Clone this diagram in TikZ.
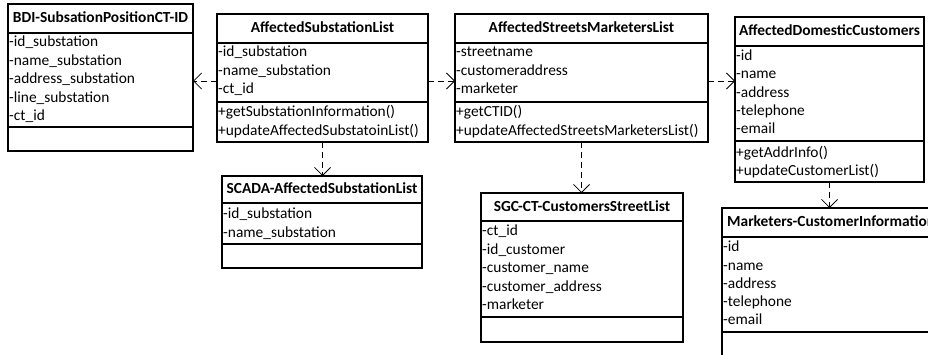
\documentclass[tikz,border=0pt]{standalone}
\usepackage{fontspec}
\setmainfont{Carlito}
\usetikzlibrary{arrows.meta}
\tikzset{
  umlbox/.style={draw, line width=1.1pt, inner sep=0pt, outer sep=0pt, anchor=north west},
  divline/.style={line width=1.1pt},
  rowtxt/.style={inner sep=0pt, text height=11pt, text depth=3.5pt, anchor=west, font=\fontsize{15.4}{18}\selectfont},
  titletxt/.style={inner sep=0pt, text height=11pt, text depth=3.5pt, font=\fontsize{15.4}{18}\selectfont\bfseries},
  dep/.style={line width=0.8pt, dash pattern=on 6pt off 4pt, -{Straight Barb[length=8pt,width=16pt]}},
}
\newcommand\umlrows[5]{\foreach \rr [count=\i] in {#5} {\node[rowtxt] (#1\i) at ({#2},{#3+#4*(\i-1)}) {\rr};}}
\begin{document}
\begin{tikzpicture}[x=1pt,y=-1pt]
\useasboundingbox (0,0) rectangle (928,355);
\fill[white] (0,0) rectangle (928,355);
\clip (0,0) rectangle (928,355);

% B1
\node[umlbox, minimum width=185pt, minimum height=147pt] (b1) at (8,4) {};
\draw[divline] (b1.west |- 0,33) -- (b1.east |- 0,33);
\draw[divline] (b1.west |- 0,127) -- (b1.east |- 0,127);
\node[titletxt] (t1) at (100.5,18.5) {BDI-SubsationPositionCT-ID};
\umlrows{b1a}{9}{43}{18.5}{-id\_substation,-name\_substation,-address\_substation,-line\_substation,-ct\_id}

% B2
\node[umlbox, minimum width=211pt, minimum height=128pt] (b2) at (217,14) {};
\draw[divline] (b2.west |- 0,43) -- (b2.east |- 0,43);
\draw[divline] (b2.west |- 0,102) -- (b2.east |- 0,102);
\node[titletxt] (t2) at (322.5,29) {AffectedSubstationList};
\umlrows{b2a}{218}{53}{18.5}{-id\_substation,-name\_substation,-ct\_id}
\umlrows{b2m}{218}{113}{18.5}{+getSubstationInformation(),+updateAffectedSubstatoinList()}

% B3
\node[umlbox, minimum width=253pt, minimum height=128pt] (b3) at (455,14) {};
\draw[divline] (b3.west |- 0,43) -- (b3.east |- 0,43);
\draw[divline] (b3.west |- 0,102) -- (b3.east |- 0,102);
\node[titletxt] (t3) at (581.5,29) {AffectedStreetsMarketersList};
\umlrows{b3a}{456}{53}{18.5}{-streetname,-customeraddress,-marketer}
\umlrows{b3m}{456}{113}{18.5}{+getCTID(),+updateAffectedStreetsMarketersList()}

% B4
\node[umlbox, minimum width=189pt, minimum height=165pt] (b4) at (735,17) {};
\draw[divline] (b4.west |- 0,46) -- (b4.east |- 0,46);
\draw[divline] (b4.west |- 0,141) -- (b4.east |- 0,141);
\node[titletxt] (t4) at (829.5,32) {AffectedDomesticCustomers};
\umlrows{b4a}{736}{57}{18.25}{-id,-name,-address,-telephone,-email}
\umlrows{b4m}{736}{154}{18.25}{+getAddrInfo(),+updateCustomerList()}

% B5
\node[umlbox, minimum width=200pt, minimum height=92pt] (b5) at (222,176) {};
\draw[divline] (b5.west |- 0,203) -- (b5.east |- 0,203);
\draw[divline] (b5.west |- 0,244) -- (b5.east |- 0,244);
\node[titletxt] (t5) at (322,190) {SCADA-AffectedSubstationList};
\umlrows{b5a}{223}{215}{18.3}{-id\_substation,-name\_substation}

% B6
\node[umlbox, minimum width=202pt, minimum height=149pt] (b6) at (481,193) {};
\draw[divline] (b6.west |- 0,221) -- (b6.east |- 0,221);
\draw[divline] (b6.west |- 0,317) -- (b6.east |- 0,317);
\node[titletxt] (t6) at (582,208) {SGC-CT-CustomersStreetList};
\umlrows{b6a}{482}{232}{18.5}{-ct\_id,-id\_customer,-customer\_name,-customer\_address,-marketer}

% B7
\node[umlbox, minimum width=220pt, minimum height=150pt] (b7) at (722,208) {};
\draw[divline] (b7.west |- 0,237) -- (b7.east |- 0,237);
\draw[divline] (b7.west |- 0,332) -- (b7.east |- 0,332);
\node[titletxt, anchor=west] (t7) at (727,223) {Marketers-CustomerInformation};
\umlrows{b7a}{723}{248}{18.3}{-id,-name,-address,-telephone,-email}

% connectors
\coordinate (lv) at (0,81);
\draw[dep] (b2.west |- lv) -- (b1.east |- lv);
\draw[dep] (b2.east |- lv) -- (b3.west |- lv);
\draw[dep] (b3.east |- lv) -- (b4.west |- lv);
\draw[dep] (b2.south) -- (b2.south |- b5.north);
\draw[dep] (b3.south) -- (b3.south |- b6.north);
\draw[dep] (b4.south) -- (b4.south |- b7.north);
\end{tikzpicture}
\end{document}
